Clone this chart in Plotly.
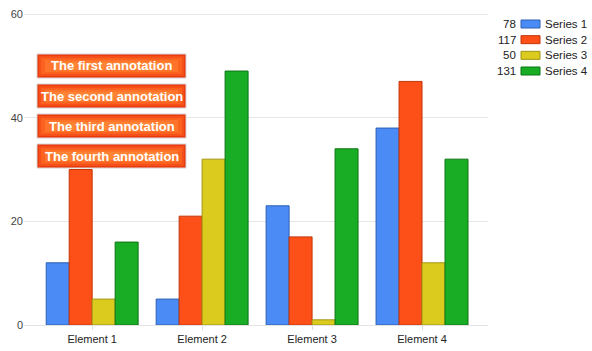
import plotly.graph_objects as go

categories = ["Element 1", "Element 2", "Element 3", "Element 4"]
series_names = ["Series 1", "Series 2", "Series 3", "Series 4"]
series_1 = [12, 5, 23, 38]
series_2 = [30, 21, 17, 47]
series_3 = [5, 32, 1, 12]
series_4 = [16, 49, 34, 32]
legend_totals = ["78", "117", "50", "131"]
annotation_texts = ["The first annotation", "The second annotation",
                    "The third annotation", "The fourth annotation"]
y_ticks = [0, 20, 40, 60]

fills = ["#4a8bf5", "#fd4f18", "#dccb1f", "#19ad25"]
borders = ["#2d5fb3", "#c23608", "#a39511", "#0c7414"]

W, H = 592, 351
L, R, T, B = 24, 104, 13, 26
PW, PH = W - L - R, H - T - B


def px(x):
    return (x - L) / PW


def py(y):
    return (H - B - y) / PH


fig = go.Figure()
for name, vals, fc, bc in zip(series_names, [series_1, series_2, series_3, series_4], fills, borders):
    fig.add_trace(go.Bar(
        x=categories, y=vals, name=name,
        marker=dict(color=fc, line=dict(color=bc, width=1)),
        showlegend=False,
    ))

shapes = []
annotations = []

# annotation boxes (layered fills to suggest the glossy gradient)
layers = [(0, 0, "#ea3a0e"), (2, 2, "#f5501a"), (4, 4, "#fb6220"), (8, 6, "#ff742a"), (16, 8, "#ff8334")]
for i, txt in enumerate(annotation_texts):
    top = 54 + 30 * i
    bot = top + 24
    x0, x1 = 37, 186
    for k, (dx, dy, col) in enumerate(layers):
        shapes.append(dict(type="rect", xref="paper", yref="paper", layer="above",
                           x0=px(x0 + dx), x1=px(x1 - dx), y0=py(bot - dy), y1=py(top + dy),
                           line=dict(color="#d4d4d4", width=1) if k == 0 else dict(width=0),
                           fillcolor=col))
    annotations.append(dict(text="<b>" + txt + "</b>", xref="paper", yref="paper",
                            x=px((x0 + x1) / 2), y=py((top + bot) / 2),
                            xanchor="center", yanchor="middle", showarrow=False,
                            font=dict(family="Liberation Sans, Arial", size=13, color="white")))

# custom legend
for i, (name, tot, fc, bc) in enumerate(zip(series_names, legend_totals, fills, borders)):
    cy = 24 + 15.67 * i
    shapes.append(dict(type="rect", xref="paper", yref="paper",
                       x0=px(521), x1=px(540), y0=py(cy + 4), y1=py(cy - 4),
                       line=dict(color=bc, width=1), fillcolor=fc))
    annotations.append(dict(text=tot, xref="paper", yref="paper", x=px(518), y=py(cy),
                            xanchor="right", yanchor="middle", showarrow=False,
                            font=dict(family="Liberation Sans, Arial", size=11.5, color="#222")))
    annotations.append(dict(text=name, xref="paper", yref="paper", x=px(543), y=py(cy),
                            xanchor="left", yanchor="middle", showarrow=False,
                            font=dict(family="Liberation Sans, Arial", size=11.5, color="#222")))

fig.update_layout(
    width=W, height=H,
    margin=dict(l=L, r=R, t=T, b=B, pad=0, autoexpand=False),
    paper_bgcolor="white", plot_bgcolor="white",
    barmode="group", bargap=0.164, bargroupgap=0,
    font=dict(family="Liberation Sans, Arial", size=11, color="#333"),
    shapes=shapes, annotations=annotations,
    xaxis=dict(type="category", range=[-0.62, 3.6], showgrid=False, automargin=False,
               ticks="outside", ticklen=4, tickcolor="#dddddd",
               showline=True, linecolor="#e3e3e3", linewidth=1,
               tickfont=dict(size=11, color="#222")),
    yaxis=dict(range=[0, 60.2], tickvals=y_ticks, showgrid=True, gridcolor="#e6e6e6",
               zeroline=False, showline=False, ticks="", automargin=False,
               tickfont=dict(size=11, color="#444")),
)

fig.write_html("out.html")
